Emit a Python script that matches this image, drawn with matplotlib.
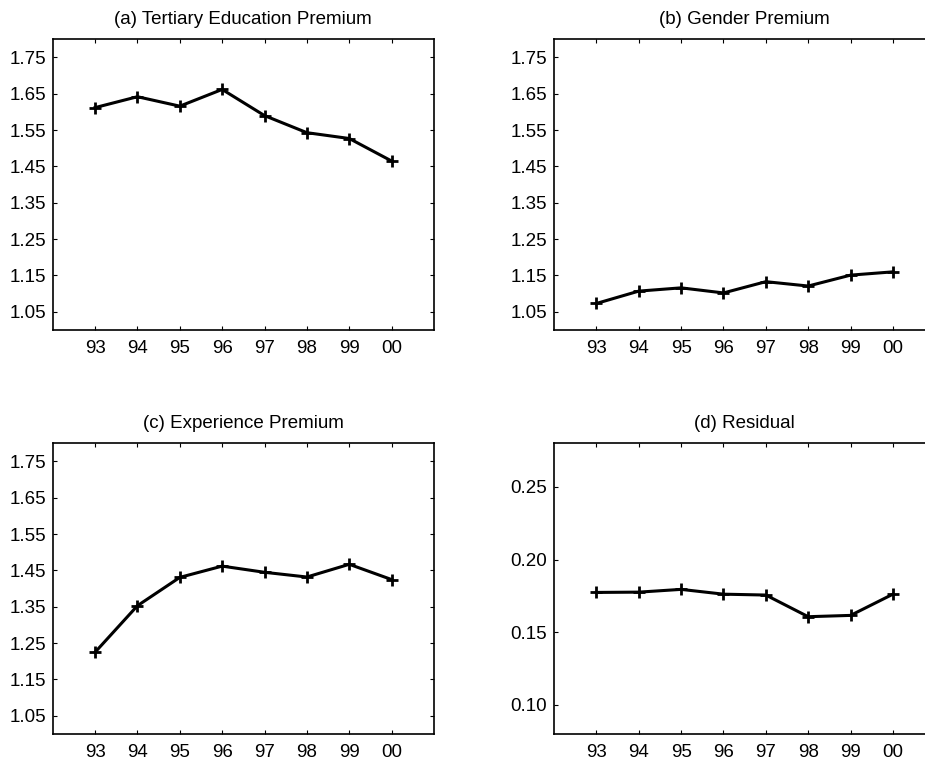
import numpy as np
import matplotlib
matplotlib.use("Agg")
import matplotlib.pyplot as plt

plt.rcParams['font.family'] = ['Liberation Sans', 'DejaVu Sans']

years = ['93', '94', '95', '96', '97', '98', '99', '00']
tertiary = [1.612, 1.642, 1.616, 1.662, 1.590, 1.543, 1.527, 1.465]
gender = [1.073, 1.107, 1.116, 1.102, 1.133, 1.121, 1.151, 1.160]
experience = [1.225, 1.353, 1.431, 1.462, 1.445, 1.432, 1.467, 1.425]
residual = [0.1774, 0.1776, 0.1795, 0.1762, 0.1756, 0.1607, 0.1616, 0.1762]

titles = ['(a) Tertiary Education Premium', '(b) Gender Premium',
          '(c) Experience Premium', '(d) Residual']
premium_ticks = [1.05, 1.15, 1.25, 1.35, 1.45, 1.55, 1.65, 1.75]
residual_ticks = [0.10, 0.15, 0.20, 0.25]

fig = plt.figure(figsize=(9.25, 7.59), dpi=100)
W, H = 925, 759
def pos(l, t, r, b):
    return [l / W, 1 - b / H, (r - l) / W, (b - t) / H]

aw = 381.3
boxes = [pos(52.7, 39.3, 52.7 + aw, 330),
         pos(554, 39.3, 554 + aw, 330),
         pos(52.7, 443.3, 52.7 + aw, 734),
         pos(554, 443.3, 554 + aw, 734)]
series = [tertiary, gender, experience, residual]
ylims = [(1.0, 1.8), (1.0, 1.8), (1.0, 1.8), (0.08, 0.28)]
yticks = [premium_ticks, premium_ticks, premium_ticks, residual_ticks]
yfmt = ['%.2f', '%.2f', '%.2f', '%.2f']

fs = 13.5
x = np.arange(1, len(years) + 1)
for box, ys, title, yl, yt, fmt in zip(boxes, series, titles, ylims, yticks, yfmt):
    ax = fig.add_axes(box)
    ax.plot(x, ys, color='black', linewidth=2.2, marker='+',
            markersize=9, markeredgewidth=2.0)
    ax.set_xlim(0, len(years) + 1)
    ax.set_ylim(*yl)
    ax.set_xticks(x)
    ax.set_xticklabels(years)
    ax.set_yticks(yt)
    ax.set_yticklabels([fmt % v for v in yt])
    ax.tick_params(direction='in', length=3, width=0.8, labelsize=fs,
                   top=True, right=True, color='black')
    ax.tick_params(axis='x', pad=7)
    ax.tick_params(axis='y', pad=5)
    for s in ax.spines.values():
        s.set_linewidth(1.2)
    ax.set_title(title, fontsize=fs, pad=11)

fig.savefig('out.png', dpi=100)
